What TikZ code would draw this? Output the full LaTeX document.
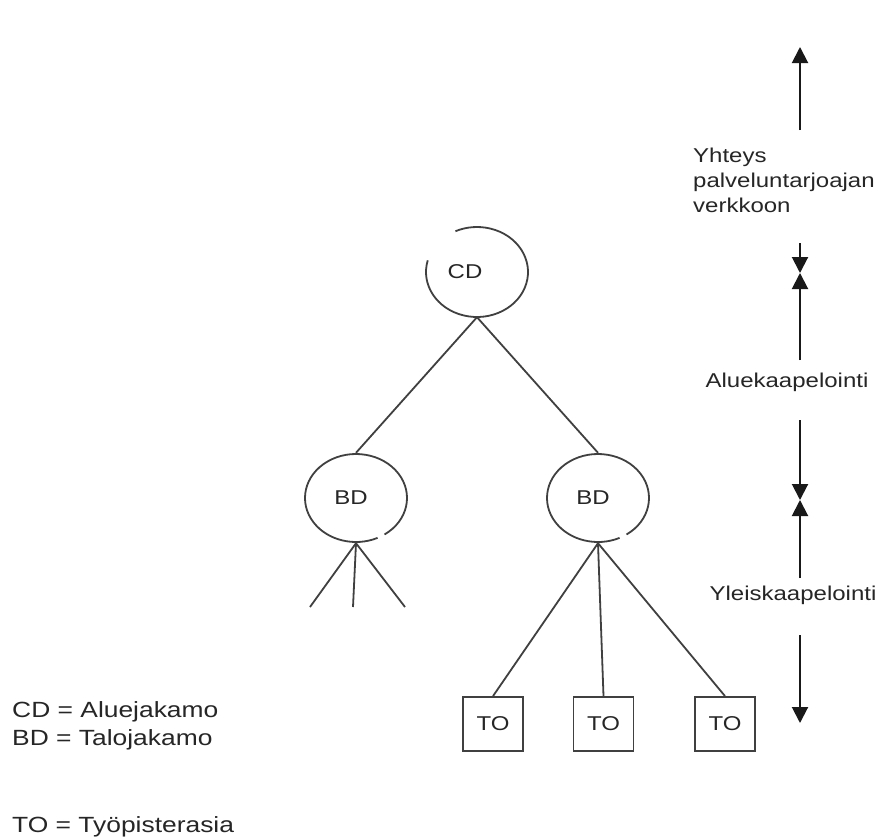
\documentclass[tikz,border=0pt]{standalone}
\usepackage{fontspec}
\setmainfont[FakeStretch=1.2]{Liberation Sans}
\usetikzlibrary{arrows.meta,positioning,shapes.geometric}
\tikzset{
  distnode/.style = {
    ellipse,
    minimum width=102pt,
    minimum height=90pt,
    inner sep=0pt,
    text=black!85,
    font=\fontsize{20}{24}\selectfont
  },
  distring/.style = {
    draw=black!75,
    line width=1.8pt
  },
  tobox/.style = {
    rectangle,
    draw=black!75,
    line width=1.8pt,
    minimum width=60pt,
    minimum height=54pt,
    inner sep=0pt,
    text=black!85,
    font=\fontsize{20}{24}\selectfont
  },
  treeline/.style = {
    draw=black!75,
    line width=1.8pt
  },
  levelarrow/.style = {
    -{Triangle[length=16pt,width=16pt]},
    line width=2pt,
    black!90
  },
  leveltext/.style = {
    inner sep=0pt,
    text=black!85,
    font=\fontsize{20}{25}\selectfont
  },
  legendtext/.style = {
    anchor=west,
    inner sep=0pt,
    text=black!85,
    font=\fontsize{22}{28}\selectfont
  }
}
\newcommand{\leftby}[2]{\hbox to 0pt{\hss#2\hspace{#1}\hss}}

\begin{document}
\begin{tikzpicture}[x=1pt,y=-1pt]
    \useasboundingbox[fill=white] (0,0) rectangle (889,838);
    % tree
    \node[distnode] (cd) at (477,272) {\leftby{24pt}{CD}};
    \node[distnode] (bdl) at (356,498) {\leftby{10pt}{BD}};
    \node[distnode] (bdr) at (598,498) {\leftby{10pt}{BD}};
    \draw[distring] ([shift={(165:51pt and 45pt)}]cd.center) arc[start angle=165, end angle=475, x radius=51pt, y radius=45pt];
    \draw[distring] ([shift={(-56:51pt and 44pt)}]bdl.center) arc[start angle=-56, end angle=295, x radius=51pt, y radius=44pt];
    \draw[distring] ([shift={(-56:51pt and 44pt)}]bdr.center) arc[start angle=-56, end angle=295, x radius=51pt, y radius=44pt];
    \node[tobox] (to1) at (493,724) {TO};
    \node[tobox] (to2) at (603.5,724) {TO};
    \node[tobox] (to3) at (725,724) {TO};
    \coordinate (leafa) at (310,607);
    \coordinate (leafb) at (353,607);
    \coordinate (leafc) at (405,607);
    \draw[treeline] (cd.south) -- (bdl.north);
    \draw[treeline] (cd.south) -- (bdr.north);
    \draw[treeline] (bdl.south) -- (leafa);
    \draw[treeline] (bdl.south) -- (leafb);
    \draw[treeline] (bdl.south) -- (leafc);
    \draw[treeline] (bdr.south) -- (to1.north);
    \draw[treeline] (bdr.south) -- (to2.north);
    \draw[treeline] (bdr.south) -- (to3.north);
    % levels on the right
    \node[leveltext, anchor=west, align=left] (net) at (693,180) {Yhteys\\palveluntarjoajan\\verkkoon};
    \node[leveltext] (area) at (787,382) {Aluekaapelointi};
    \node[leveltext] (gen) at (793,595) {Yleiskaapelointi};
    \coordinate (neta) at (800,130);
    \coordinate (netb) at (800,47);
    \coordinate (cdlev) at (800,273);
    \coordinate (netc) at (800,243);
    \coordinate (areaa) at (800,360);
    \coordinate (areab) at (800,420);
    \coordinate (bdlev) at (800,500);
    \coordinate (gena) at (800,578);
    \coordinate (genb) at (800,635);
    \coordinate (tolev) at (800,723);
    \draw[levelarrow] (neta) -- (netb);
    \draw[levelarrow] (netc) -- (cdlev);
    \draw[levelarrow] (areaa) -- (cdlev);
    \draw[levelarrow] (areab) -- (bdlev);
    \draw[levelarrow] (gena) -- (bdlev);
    \draw[levelarrow] (genb) -- (tolev);
    % legend
    \node[legendtext] (cdkey) at (12,712) {CD = Aluejakamo};
    \node[legendtext] (bdkey) at (12,740) {BD = Talojakamo};
    \node[legendtext] (tokey) at (12,827) {TO = Työpisterasia};
\end{tikzpicture}
\end{document}
